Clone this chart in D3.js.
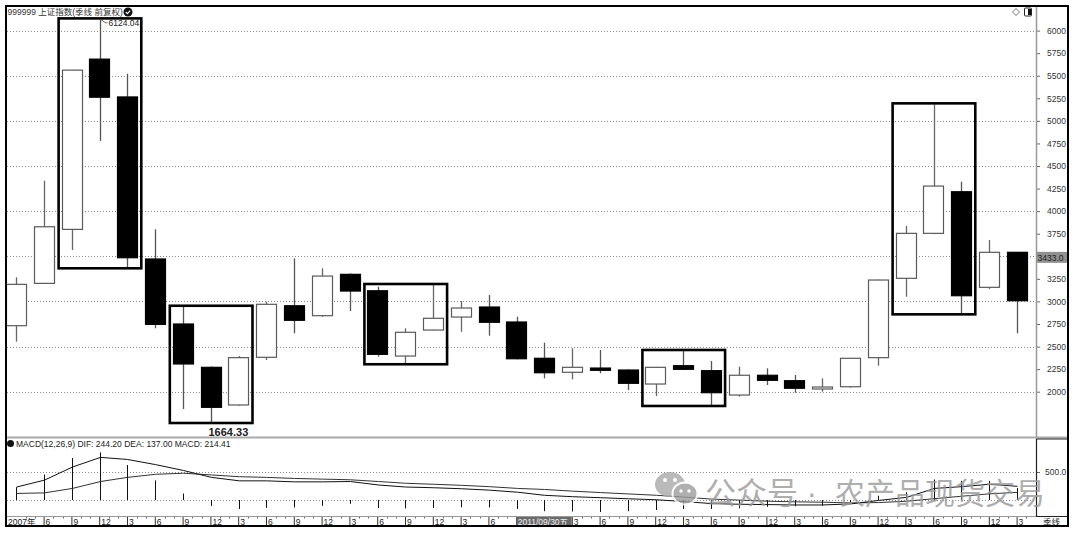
<!DOCTYPE html>
<html><head><meta charset="utf-8">
<script src="https://cdn.jsdelivr.net/npm/d3@7/dist/d3.min.js"></script>
<style>
body{margin:0;background:#fff;}
svg{display:block;}
text{font-family:"Liberation Sans",Arial,"Noto Sans CJK SC",sans-serif;}
</style>
</head><body>
<svg id="chart" width="1080" height="533"></svg>
<script>
// ---------- data ----------
const quarters = ["2007Q1","2007Q2","2007Q3","2007Q4","2008Q1","2008Q2","2008Q3","2008Q4",
 "2009Q1","2009Q2","2009Q3","2009Q4","2010Q1","2010Q2","2010Q3","2010Q4",
 "2011Q1","2011Q2","2011Q3","2011Q4","2012Q1","2012Q2","2012Q3","2012Q4",
 "2013Q1","2013Q2","2013Q3","2013Q4","2014Q1","2014Q2","2014Q3","2014Q4",
 "2015Q1","2015Q2","2015Q3","2015Q4","2016Q1"];
const dateLabels = ["2007年","6","9","12","3","6","9","12","3","6","9","12","3","6","9","12",
 "3","6","9","12","3","6","9","12","3","6","9","12","3","6","9","12","3","6","9","12","3"];
const openP  = [2731,3200,3798,5684,5265,3470,2750,2270,1853,2381,2952,2842,3300,3118,2395,2683,
 2827,2938,2772,2370,2215,2262,2240,2085,2288,2233,1963,2182,2122,2030,2055,2377,3256,3754,4215,3156,3544];
const highP  = [3267,4337,5565,6124.04,5522,3798,2941,2280,2395,2997,3477,3367,3311,3163,2702,3182,
 3004,3071,2831,2543,2481,2462,2248,2275,2451,2340,2277,2259,2185,2148,2375,3240,3835,5183,4326,3680,3545];
const lowP   = [2554,3195,3569,4778,3378,2702,1808,1664.33,1845,2351,2647,2830,2894,2388,2315,2678,
 2664,2620,2359,2148,2137,2204,2019,1952,2240,1853,1945,2074,1989,2000,2045,2288,3052,3745,2868,3137,2647];
const closeP = [3189,3827,5562,5262,3484,2746,2307,1827,2377,2968,2791,3281,3115,2414,2658,2813,
 2927,2769,2365,2210,2270,2237,2093,2270,2248,1989,2182,2126,2038,2052,2370,3237,3754,4278,3063,3544,3008];
const difV  = [231,355,589,761,724,632,527,404,342,342,324,324,330,268,232,219,
 201,176,139,84,59,41,22,4,-27,-64,-76,-82,-89,-89,-70,-8,47,207,238,281,244.20];
const deaV  = [117,127,207,330,404,459,478,447,416,404,385,373,361,330,299,281,
 262,238,207,188,158,133,108,84,53,16,-2,-21,-33,-39,-52,-46,-22,24,67,110,137.00];
const macdV = [228,456,750,850,625,350,115,-105,-160,-140,-135,-105,-68,-145,-150,-140,
 -130,-132,-160,-200,-205,-215,-200,-180,-160,-160,-148,-122,-112,-100,-36,76,138,366,342,342,214.41];
const priceTicks = [2000,2250,2500,2750,3000,3250,3500,3750,4000,4250,4500,4750,5000,5250,5500,5750,6000];
const gridLevels = [2000,2500,3000,3500,4000,4500,5000,5500,6000];
const macdTicks = [500];
const boxGroups = [[2,4],[6,8],[13,15],[23,25],[32,34]];
const lastPrice = 3433.0;
const cursorDate = "2011/09/30五";
const cursorIndex = 18;
const peakIndex = 3, troughIndex = 7;

// ---------- layout ----------
const svg = d3.select("#chart");
const L = 7, R = 1036, MT = 7, MB = 437, ST = 439, SB = 515, AX = 516;
const font = '"Liberation Sans",Arial,"Noto Sans CJK SC",sans-serif';

const x = d3.scaleBand().domain(quarters).range([2.4, 1031]).paddingInner(0.26).paddingOuter(0.13);
const bw = x.bandwidth();
const cx = q => Math.round(x(q) + bw / 2) + 0.5;
const y = d3.scaleLinear().domain([2000, 6000]).range([391.7, 30.6]);
const ym = d3.scaleLinear().domain([0, 500]).range([500, 472]);

const defs = svg.append("defs");
defs.append("clipPath").attr("id","clipMain").append("rect").attr("x",L).attr("y",MT).attr("width",R-L).attr("height",MB-MT);
defs.append("clipPath").attr("id","clipSub").append("rect").attr("x",L).attr("y",ST).attr("width",R-L).attr("height",SB-ST);

svg.append("rect").attr("width",1080).attr("height",533).attr("fill","#fff");

// gridlines
const gMain = svg.append("g").attr("clip-path","url(#clipMain)");
gMain.selectAll("line.grid").data(gridLevels).join("line")
  .attr("x1",L).attr("x2",R).attr("y1",d=>Math.round(y(d))+0.5).attr("y2",d=>Math.round(y(d))+0.5)
  .attr("stroke","#8a8a8a").attr("stroke-width",1).attr("stroke-dasharray","1,2");

// candles
const idx = d3.range(quarters.length);
gMain.selectAll("line.wick").data(idx).join("line")
  .attr("x1",i=>cx(quarters[i])).attr("x2",i=>cx(quarters[i]))
  .attr("y1",i=>y(highP[i])).attr("y2",i=>y(lowP[i]))
  .attr("stroke",i=>closeP[i]>=openP[i]?"#666":"#555").attr("stroke-width",1.3);
gMain.selectAll("rect.body").data(idx).join("rect")
  .attr("x",i=>Math.round(x(quarters[i]))+0.5)
  .attr("width",Math.round(bw)-1)
  .attr("y",i=>y(Math.max(openP[i],closeP[i])))
  .attr("height",i=>Math.max(1.5, y(Math.min(openP[i],closeP[i]))-y(Math.max(openP[i],closeP[i]))))
  .attr("fill",i=>closeP[i]>=openP[i]?"#fff":"#000")
  .attr("stroke",i=>closeP[i]>=openP[i]?"#5a5a5a":"#000")
  .attr("stroke-width",1.2);

// annotation boxes
gMain.selectAll("rect.box").data(boxGroups).join("rect")
  .attr("x",g=>x(quarters[g[0]])-3)
  .attr("width",g=>x(quarters[g[1]])+bw+3.5-(x(quarters[g[0]])-3))
  .attr("y",g=>y(d3.max(d3.range(g[0],g[1]+1),i=>highP[i]))-1)
  .attr("height",g=>y(d3.min(d3.range(g[0],g[1]+1),i=>lowP[i]))+1-(y(d3.max(d3.range(g[0],g[1]+1),i=>highP[i]))-1))
  .attr("fill","none").attr("stroke","#000").attr("stroke-width",2.6);

// peak / trough labels
const pkx = cx(quarters[peakIndex]), pky = y(highP[peakIndex]);
svg.append("path").attr("d",`M${pkx},${pky} q3,1 4,3 q2,1 3,0`).attr("fill","none").attr("stroke","#444").attr("stroke-width",0.8);
svg.append("text").attr("x",pkx+8).attr("y",pky+7).attr("font-size",8.5).attr("fill","#222")
  .text(d3.format(".2f")(highP[peakIndex]));
svg.append("text").attr("x",cx(quarters[troughIndex])-3).attr("y",y(lowP[troughIndex])+14)
  .attr("font-size",11).attr("font-weight","bold").attr("fill","#222")
  .text(d3.format(".2f")(lowP[troughIndex]));

// right price axis (label under the last-price marker is hidden, as in the original)
const ly = y(lastPrice);
const yAxis = svg.append("g").attr("transform",`translate(${R},0)`)
  .call(d3.axisRight(y).tickValues(priceTicks).tickSize(4).tickPadding(7)
    .tickFormat(d => Math.abs(y(d) - (ly-5)) < 9 ? "" : d3.format("d")(d)));
yAxis.select(".domain").remove();
yAxis.selectAll("line").attr("stroke","#666");
yAxis.selectAll("text").attr("font-size",8.5).attr("font-family",font).attr("fill","#333");

// last price marker
svg.append("rect").attr("x",R).attr("y",ly-10.5).attr("width",32).attr("height",11).attr("fill","#909090");
svg.append("text").attr("x",R+1.5).attr("y",ly-1.8).attr("font-size",8.5).attr("fill","#222").text(lastPrice.toFixed(1));

// ---------- MACD panel ----------
const gSub = svg.append("g").attr("clip-path","url(#clipSub)");
gSub.selectAll("line.mgrid").data([500,0]).join("line")
  .attr("x1",L).attr("x2",R).attr("y1",d=>Math.round(ym(d))+0.5).attr("y2",d=>Math.round(ym(d))+0.5)
  .attr("stroke","#8a8a8a").attr("stroke-dasharray","1,2");
gSub.selectAll("line.hist").data(idx).join("line")
  .attr("x1",i=>cx(quarters[i])).attr("x2",i=>cx(quarters[i]))
  .attr("y1",ym(0)).attr("y2",i=>ym(macdV[i]))
  .attr("stroke","#111").attr("stroke-width",1);
const lineGen = arr => d3.line().x(i=>cx(quarters[i])).y(i=>ym(arr[i]))(idx);
gSub.append("path").attr("d",lineGen(deaV)).attr("fill","none").attr("stroke","#333").attr("stroke-width",1);
gSub.append("path").attr("d",lineGen(difV)).attr("fill","none").attr("stroke","#111").attr("stroke-width",1);

const mAxis = svg.append("g").attr("transform",`translate(${R},0)`)
  .call(d3.axisRight(ym).tickValues(macdTicks).tickSize(4).tickPadding(5).tickFormat(d3.format(".1f")));
mAxis.select(".domain").remove();
mAxis.selectAll("line").attr("stroke","#666");
mAxis.selectAll("text").attr("font-size",8.5).attr("font-family",font).attr("fill","#333");

svg.append("circle").attr("cx",10.5).attr("cy",443.5).attr("r",3.5).attr("fill","#111");
svg.append("text").attr("x",16).attr("y",446.7).attr("font-size",8.5).attr("fill","#222")
  .text(`MACD(12,26,9) DIF: ${difV[difV.length-1].toFixed(2)} DEA: ${deaV[deaV.length-1].toFixed(2)} MACD: ${macdV[macdV.length-1].toFixed(2)}`);

// ---------- date axis ----------
const step = x.step();
const cdx = x(quarters[cursorIndex]) + bw/2;
const cursorW = 55;
const minor = [];
quarters.forEach(q => { minor.push(x(q)+bw/2+step/3, x(q)+bw/2+2*step/3); });
svg.append("g").selectAll("line").data(minor.filter(v=>v<R-1)).join("line")
  .attr("x1",d=>Math.round(d)+0.5).attr("x2",d=>Math.round(d)+0.5).attr("y1",AX).attr("y2",AX+2.5)
  .attr("stroke","#666");
const covered = q => { const c = x(q)+bw/2; return c >= cdx-1 && c < cdx+cursorW; };
const xAxis = svg.append("g").attr("transform",`translate(0,${AX})`)
  .call(d3.axisBottom(x).tickSize(9).tickFormat((d,i)=> covered(d) ? "" : dateLabels[i]));
xAxis.select(".domain").remove();
xAxis.selectAll("line").attr("stroke","#333");
xAxis.selectAll("text").attr("font-size",8.5).attr("font-family",font).attr("fill","#222")
  .attr("text-anchor","start").attr("x",1.5).attr("y",8.6).attr("dy",0);
xAxis.selectAll(".tick").filter((d,i)=>i===0).select("text").attr("x",L+1-(x(quarters[0])+bw/2));
xAxis.selectAll(".tick").filter((d,i)=>i===0).select("line").remove();
// cursor date
svg.append("rect").attr("x",cdx).attr("y",AX+0.5).attr("width",cursorW).attr("height",9.5).attr("fill","#6a6a6a");
svg.append("text").attr("x",cdx+1).attr("y",AX+8.6).attr("font-size",8.5).attr("fill","#eee").text(cursorDate);
svg.append("text").attr("x",1043).attr("y",AX+8.6).attr("font-size",8.5).attr("fill","#222").text("季线");

// ---------- frame / separators ----------
svg.append("line").attr("x1",L).attr("x2",1068).attr("y1",437.5).attr("y2",437.5).attr("stroke","#aaa").attr("stroke-width",2);
svg.append("line").attr("x1",R).attr("x2",1068).attr("y1",439).attr("y2",439).attr("stroke","#222").attr("stroke-width",1);
svg.append("line").attr("x1",L).attr("x2",1068).attr("y1",AX+0.5).attr("y2",AX+0.5).attr("stroke","#999").attr("stroke-width",1);
svg.append("line").attr("x1",R).attr("x2",1068).attr("y1",AX+0.5).attr("y2",AX+0.5).attr("stroke","#222").attr("stroke-width",1);
svg.append("line").attr("x1",R+0.5).attr("x2",R+0.5).attr("y1",MT).attr("y2",MB).attr("stroke","#999").attr("stroke-width",1.5);
svg.append("line").attr("x1",R+0.5).attr("x2",R+0.5).attr("y1",ST).attr("y2",AX).attr("stroke","#222").attr("stroke-width",1.2);
svg.append("rect").attr("x",6).attr("y",6).attr("width",1062).attr("height",520).attr("fill","none").attr("stroke","#000").attr("stroke-width",2);

// title
svg.append("text").attr("x",7.5).attr("y",14.5).attr("font-size",8.5).attr("fill","#333").text("999999 上证指数(季线 前复权)");
svg.append("circle").attr("cx",128).attr("cy",12).attr("r",4.5).attr("fill","#111");
svg.append("path").attr("d","M125.8,12 l1.6,1.6 l2.8,-3").attr("fill","none").attr("stroke","#fff").attr("stroke-width",1.1);
// top-right icons
svg.append("path").attr("d","M1016,8.5 l3.5,3.5 l-3.5,3.5 l-3.5,-3.5 z").attr("fill","none").attr("stroke","#666").attr("stroke-width",0.9);
svg.append("rect").attr("x",1024.5).attr("y",8).attr("width",7).attr("height",8).attr("rx",1).attr("fill","#fff").attr("stroke","#222");
svg.append("rect").attr("x",1028).attr("y",9).attr("width",3).attr("height",6).attr("fill","#111");

// ---------- watermark ----------
const wm = svg.append("g").attr("opacity",0.8);
wm.append("ellipse").attr("cx",670).attr("cy",484.5).attr("rx",15).attr("ry",12.5).attr("fill","#a9a9a9");
wm.append("ellipse").attr("cx",685).attr("cy",493.5).attr("rx",12.5).attr("ry",11).attr("fill","#9d9d9d").attr("stroke","#fff").attr("stroke-width",2);
[[665,480],[675,480]].forEach(p=>wm.append("circle").attr("cx",p[0]).attr("cy",p[1]).attr("r",2).attr("fill","#fff"));
[[681,491],[689,491]].forEach(p=>wm.append("circle").attr("cx",p[0]).attr("cy",p[1]).attr("r",1.7).attr("fill","#fff"));
wm.append("text").attr("x",705).attr("y",504).attr("font-size",31).attr("fill","#9a9a9a").attr("font-family","Noto Sans CJK SC").text("公众号");
wm.append("text").attr("x",812).attr("y",504).attr("text-anchor","middle").attr("font-size",31).attr("fill","#9a9a9a").attr("font-family","Noto Sans CJK SC").text("·");
wm.append("text").attr("x",835).attr("y",504).attr("font-size",30).attr("fill","#9a9a9a").attr("font-family","Noto Sans CJK SC").text("农产品现货交易");
</script>
</body></html>
